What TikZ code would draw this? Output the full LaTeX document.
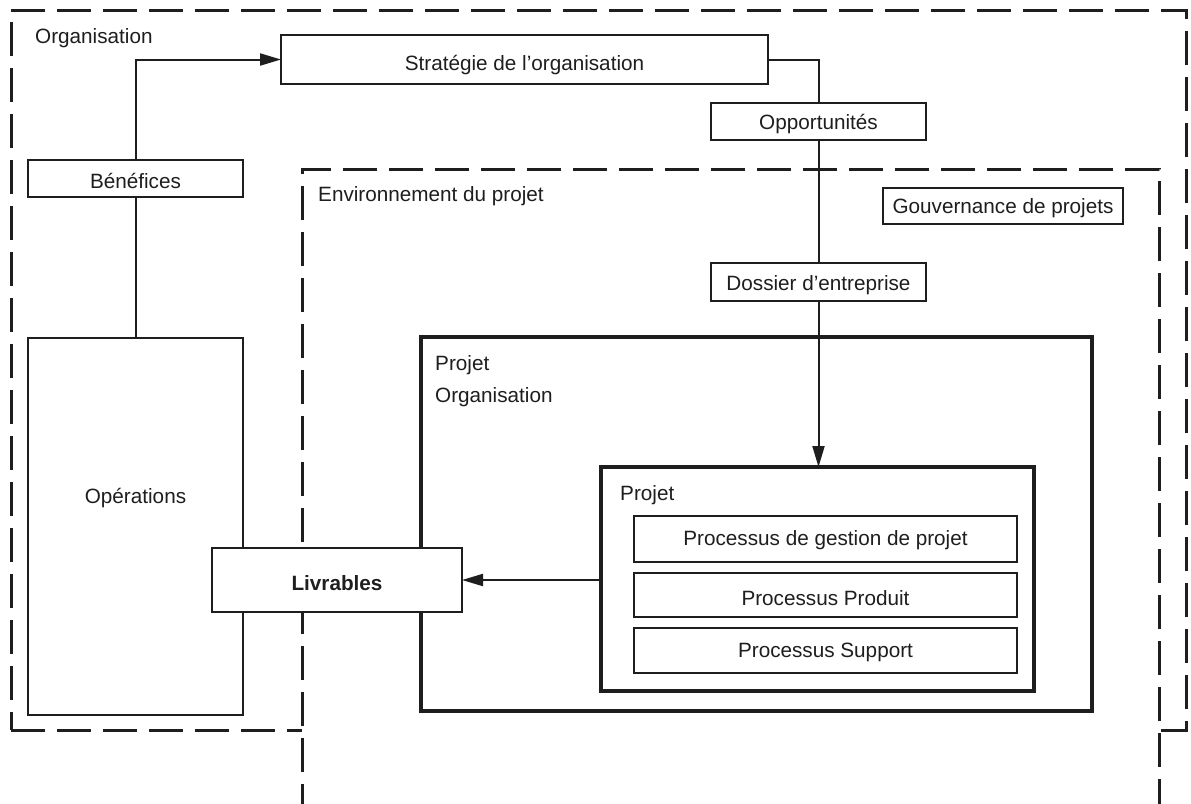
\documentclass[tikz,border=0pt]{standalone}
\usepackage{fontspec}
\setmainfont{Liberation Sans}
\usetikzlibrary{arrows.meta}
\definecolor{ink}{HTML}{1E1E1E}
\begin{document}
\begin{tikzpicture}[x=1pt,y=-1pt,
  every node/.style={text=ink, font=\fontsize{20.7}{24}\selectfont},
  box/.style={draw=ink, fill=white, line width=2pt, rectangle, inner sep=0pt, outer sep=0pt,
              text depth=0pt, text height=16pt},
  thickbox/.style={box, line width=4.5pt},
  zone/.style={draw=ink, fill=white, line width=3pt, rectangle, inner sep=0pt, outer sep=0pt,
               dash pattern=on 34pt off 12pt},
  label/.style={anchor=base west, inner sep=0pt},
  link/.style={draw=ink, line width=2pt},
  tip/.style={-{Triangle[length=21pt,width=12pt]}}
]
\useasboundingbox (0,0) rectangle (1191,803);
\clip (0,0) rectangle (1191,803);

% outer organisation zone
\node[zone, minimum width=1175pt, minimum height=720pt] (org) at (598.5,370) {};
\node[label] (orglbl) at (35,43.3) {Organisation};

% project environment zone, running off the lower edge
\node[zone, minimum width=857pt, minimum height=661pt] (env) at (730.5,499.5) {};
\node[label] (envlbl) at (318,201.7) {Environnement du projet};

% top-level boxes
\node[box, text height=21pt, minimum width=487pt, minimum height=49pt] (strat) at (524.5,59.5) {Stratégie de l’organisation};
\node[box, text height=15pt, minimum width=215pt, minimum height=37pt] (opp) at (818.5,121.5) {Opportunités};
\node[box, text height=19pt, minimum width=215pt, minimum height=37pt] (benef) at (135.5,178.5) {Bénéfices};
\node[box, text height=15pt, minimum width=240pt, minimum height=36pt] (gouv) at (1003,206) {Gouvernance de projets};
\node[box, text height=16pt, minimum width=215pt, minimum height=38pt] (dossier) at (818.5,282) {Dossier d’entreprise};
\node[box, minimum width=215pt, minimum height=377pt] (ops) at (135.5,526.5) {};
\node[anchor=base, inner sep=0pt] (opslbl) at (135.5,503) {Opérations};

% project organisation and project
\node[thickbox, minimum width=671pt, minimum height=374pt] (projorg) at (756.5,524) {};
\node[label] (projorglbl1) at (435,370) {Projet};
\node[label] (projorglbl2) at (435,402.5) {Organisation};
\node[thickbox, minimum width=433pt, minimum height=224pt] (proj) at (817.5,579) {};
\node[label] (projlbl) at (620,500) {Projet};
\node[box, text height=13.4pt, minimum width=383pt, minimum height=46pt] (p1) at (825.5,538.5) {Processus de gestion de projet};
\node[box, text height=20pt, minimum width=383pt, minimum height=44pt] (p2) at (825.5,595) {Processus Produit};
\node[box, text height=13pt, minimum width=383pt, minimum height=45pt] (p3) at (825.5,650.8) {Processus Support};

% deliverables, on top of the zone borders
\node[box, text height=21.4pt, minimum width=250pt, minimum height=64pt,
      font=\fontsize{20.7}{24}\selectfont\bfseries] (livr) at (337,580) {Livrables};

% connectors
\draw[link] (strat.east) -| (opp.north);
\draw[link] (opp.south) -- (dossier.north);
\draw[link, tip] (dossier.south) -- (dossier.south |- proj.north);
\draw[link] (ops.north) -- (benef.south);
\draw[link, tip] (benef.north) |- (strat.west);
\draw[link, tip] (proj.west |- livr.east) -- (livr.east);
\end{tikzpicture}
\end{document}
